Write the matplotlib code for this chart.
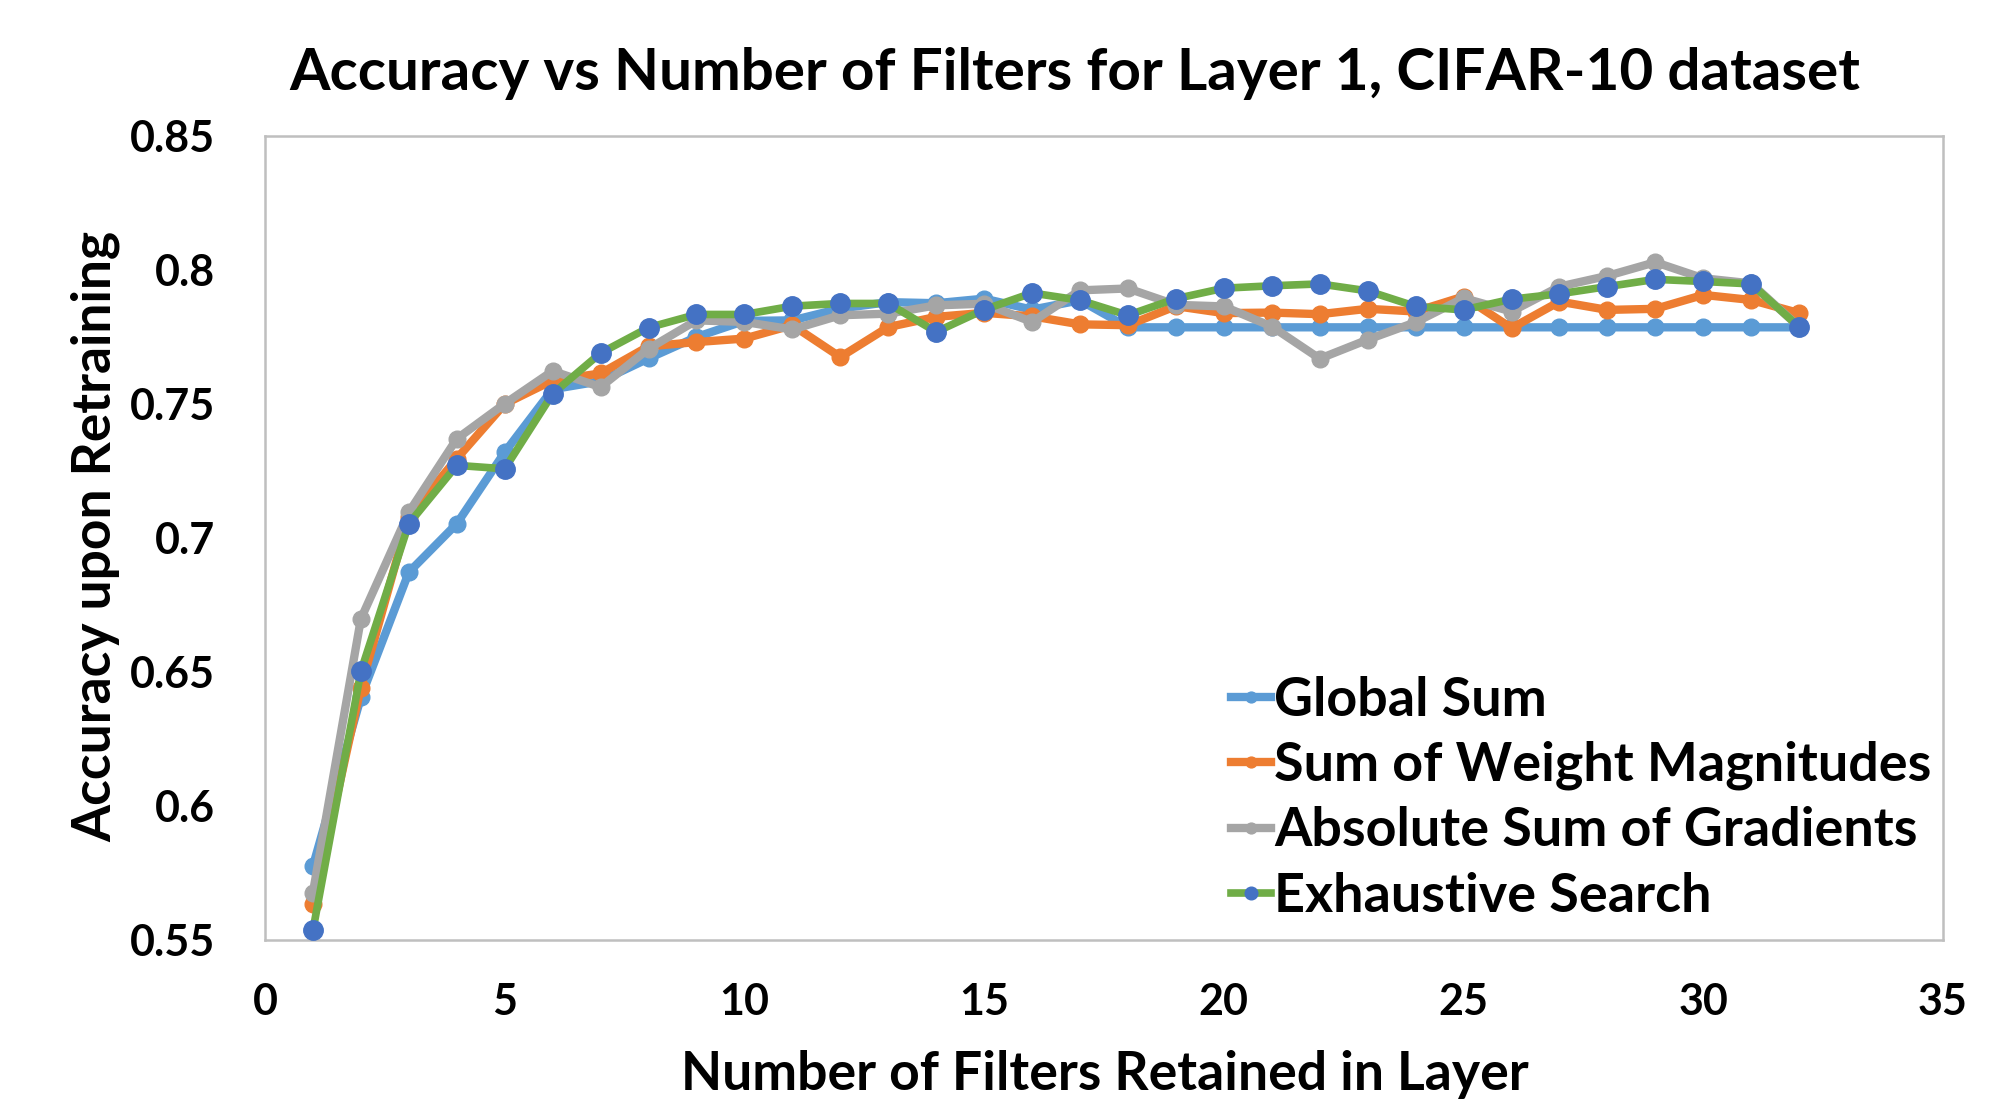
import numpy as np
import matplotlib
matplotlib.use("Agg")
import matplotlib.pyplot as plt

# filters retained in layer 1
filters = list(range(1, 33))

global_sum = [0.5776, 0.6405, 0.6872, 0.7053, 0.7320, 0.7555, 0.7585, 0.7670,
              0.7750, 0.7810, 0.7812, 0.7856, 0.7880, 0.7876, 0.7893, 0.7852,
              0.7887, 0.7786, 0.7786, 0.7786, 0.7786, 0.7786, 0.7786, 0.7786,
              0.7786, 0.7786, 0.7786, 0.7786, 0.7786, 0.7786, 0.7786, 0.7786]
weight_mag = [0.5633, 0.6442, 0.7080, 0.7296, 0.7500, 0.7588, 0.7614, 0.7715,
              0.7731, 0.7744, 0.7794, 0.7675, 0.7787, 0.7825, 0.7840, 0.7827,
              0.7797, 0.7794, 0.7865, 0.7839, 0.7841, 0.7835, 0.7855, 0.7845,
              0.7901, 0.7783, 0.7882, 0.7851, 0.7855, 0.7907, 0.7888, 0.7839]
grad_sum = [0.5677, 0.6698, 0.7096, 0.7370, 0.7501, 0.7623, 0.7563, 0.7706,
            0.7812, 0.7806, 0.7778, 0.7831, 0.7837, 0.7868, 0.7874, 0.7806,
            0.7924, 0.7931, 0.7870, 0.7864, 0.7789, 0.7669, 0.7740, 0.7805,
            0.7895, 0.7845, 0.7938, 0.7978, 0.8029, 0.7969, 0.7950, 0.7787]
exhaustive = [0.5536, 0.6502, 0.7053, 0.7271, 0.7258, 0.7538, 0.7690, 0.7785,
              0.7834, 0.7834, 0.7865, 0.7875, 0.7875, 0.7769, 0.7852, 0.7914,
              0.7887, 0.7831, 0.7893, 0.7932, 0.7941, 0.7948, 0.7922, 0.7864,
              0.7851, 0.7891, 0.7911, 0.7938, 0.7965, 0.7957, 0.7948, 0.7787]

labels = ["Global Sum", "Sum of Weight Magnitudes",
          "Absolute Sum of Gradients", "Exhaustive Search"]
yticks = [0.55, 0.6, 0.65, 0.7, 0.75, 0.8, 0.85]
ytick_labels = ["0.55", "0.6", "0.65", "0.7", "0.75", "0.8", "0.85"]
xticks = [0, 5, 10, 15, 20, 25, 30, 35]

plt.rcParams['font.family'] = ['Lato', 'DejaVu Sans']
plt.rcParams['font.weight'] = 'bold'

fig = plt.figure(figsize=(20, 11.1), dpi=100)
ax = fig.add_axes([0.1325, 0.1532, 0.839, 0.7243])
renderer = fig.canvas.get_renderer()


def fit_text(x, y, s, width_px, **kw):
    # place text and rescale the font so it spans width_px pixels
    t = fig.text(x, y, s, fontsize=40, fontweight='bold', ha='center', va='center', **kw)
    w = t.get_window_extent(renderer).width if kw.get('rotation', 0) == 0 \
        else t.get_window_extent(renderer).height
    t.set_fontsize(40 * width_px / w)
    return t


ax.plot(filters, global_sum, color='#5B9BD5', lw=6, marker='o', ms=12,
        label=labels[0], zorder=3)
ax.plot(filters, weight_mag, color='#ED7D31', lw=6, marker='o', ms=12,
        label=labels[1], zorder=4)
ax.plot(filters, grad_sum, color='#A5A5A5', lw=6, marker='o', ms=12,
        label=labels[2], zorder=5)
ax.plot(filters, exhaustive, color='#70AD47', lw=5.5, marker='o', ms=14,
        markerfacecolor='#4472C4', markeredgecolor='#4472C4',
        label=labels[3], zorder=6)

ax.set_xlim(0, 35)
ax.set_ylim(0.55, 0.85)
ax.set_xticks(xticks)
ax.set_yticks(yticks)
ax.set_yticklabels(ytick_labels)
ax.tick_params(length=0, labelsize=31)
ax.tick_params(axis='y', pad=36)
ax.tick_params(axis='x', pad=30)
for lab in ax.get_xticklabels() + ax.get_yticklabels():
    lab.set_fontweight('bold')
for sp in ax.spines.values():
    sp.set_color('#BFBFBF')
    sp.set_linewidth(1.8)

fit_text(0.5375, 0.934, "Accuracy vs Number of Filters for Layer 1, CIFAR-10 dataset", 1570)
fit_text(0.5525, 0.0324, "Number of Filters Retained in Layer", 848)
fit_text(0.048, 0.517, "Accuracy upon Retraining", 612, rotation=90)

# legend font sized to the longest label
probe = fig.text(0, 0, labels[1], fontsize=40, fontweight='bold')
leg_size = 40 * 657 / probe.get_window_extent(renderer).width
probe.remove()

leg = ax.legend(loc='upper left', bbox_to_anchor=(0.6155, 0.3914),
                bbox_transform=fig.transFigure, frameon=False,
                prop={'size': leg_size, 'weight': 'bold'},
                handlelength=0.75, handletextpad=0.05, labelspacing=0.3,
                borderpad=0, borderaxespad=0, markerscale=0.65)

fig.savefig("out.png", dpi=100)
